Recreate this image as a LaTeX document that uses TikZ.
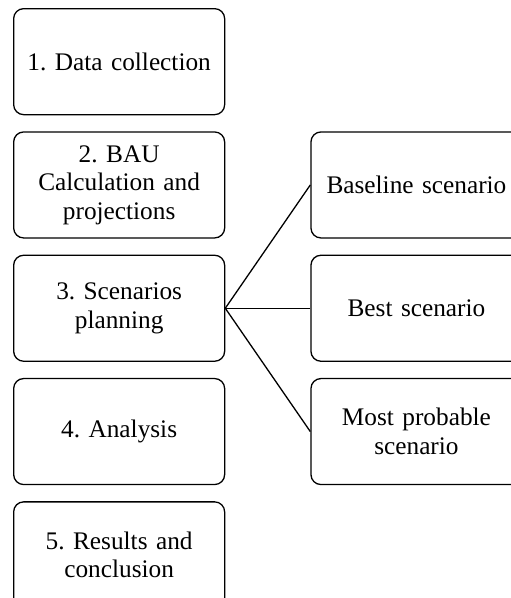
\documentclass[tikz,border=0pt]{standalone}
\usepackage{fontspec}
\setmainfont{Liberation Serif}
\usepackage{tikz}
\usetikzlibrary{positioning}
\frenchspacing
\tikzstyle{stepbox} = [rectangle, rounded corners=10pt, minimum width=211pt, minimum height=106pt, text width=195pt, align=center, draw=black, line width=1.3pt, font=\fontsize{25.3}{28.5}\selectfont]
\tikzstyle{link} = [line width=1.3pt, color=black]

\begin{document}
\begin{tikzpicture}[node distance=16pt]
\clip (0,0) rectangle (511pt,-598pt);
% Steps
\node[stepbox, anchor=north west] (s1) at (13pt,-8pt) {1. Data collection};
\node[stepbox, below=of s1] (s2) {2. BAU\\Calculation and\\projections};
\node[stepbox, below=of s2] (s3) {3. Scenarios\\planning};
\node[stepbox, below=of s3] (s4) {4. Analysis};
\node[stepbox, below=of s4] (s5) {5. Results and\\conclusion};
% Scenarios
\node[stepbox, right=85pt of s2] (sc1) {Baseline scenario};
\node[stepbox, right=85pt of s3] (sc2) {Best scenario};
\node[stepbox, right=85pt of s4] (sc3) {Most probable\\scenario};
\draw[link] (s3.east) -- (sc1.west);
\draw[link] (s3.east) -- (sc2.west);
\draw[link] (s3.east) -- (sc3.west);
\end{tikzpicture}
\end{document}
